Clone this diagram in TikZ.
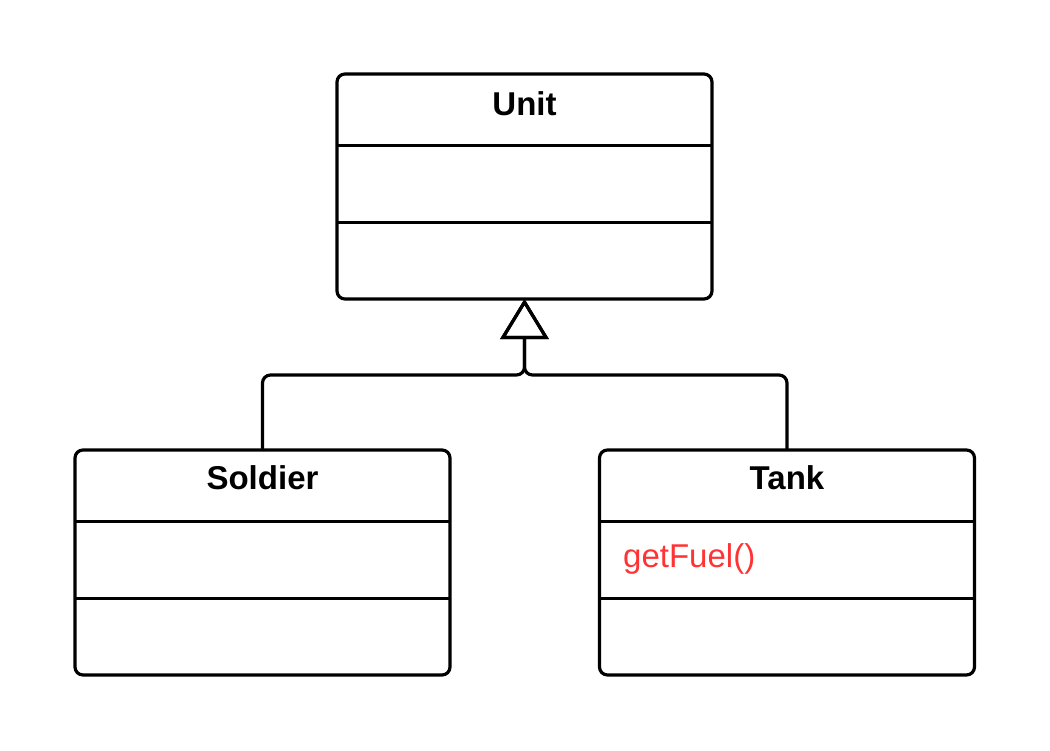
\documentclass[tikz,border=0pt]{standalone}
\usepackage{fontspec}
\setmainfont{Liberation Sans}
\usetikzlibrary{arrows.meta}
\definecolor{opred}{HTML}{FF3333}
\begin{document}
\begin{tikzpicture}[x=1pt,y=-1pt,
  classbox/.style={draw, line width=3.2pt, rounded corners=8pt, minimum width=375pt, minimum height=225pt, inner sep=0pt, outer sep=0pt},
  divider/.style={line width=3.2pt},
  title/.style={font=\fontsize{33}{40}\selectfont\bfseries, anchor=base, inner sep=0pt},
  op/.style={font=\fontsize{33}{40}\selectfont, text=opred, anchor=base west, inner sep=0pt},
  gen/.style={line width=3.2pt, rounded corners=8pt, -{Triangle[open, length=40pt, width=48pt]}}
]
\useasboundingbox (0,0) rectangle (1050,750);
\node[classbox] (unit) at (524.5,186.5) {};
\node[classbox] (soldier) at (262.5,562.5) {};
\node[classbox] (tank) at (787,562.5) {};
% dividers
\foreach \b in {unit,soldier,tank}{
  \draw[divider] ([yshift=-71.5pt]\b.north west) -- ([yshift=-71.5pt]\b.north east);
  \draw[divider] ([yshift=-148.5pt]\b.north west) -- ([yshift=-148.5pt]\b.north east);
}
% titles
\node[title] (unitT) at ([yshift=-41pt]unit.north) {Unit};
\node[title] (soldierT) at ([yshift=-39pt]soldier.north) {Soldier};
\node[title] (tankT) at ([yshift=-39pt]tank.north) {Tank};
% operation
\node[op] (fuel) at (623,567) {getFuel()};
% generalisation
\coordinate (hub) at (524.5,375);
\draw[gen] (soldier.north) |- (hub) -- (unit.south);
\draw[gen] (tank.north) |- (hub) -- (unit.south);
\end{tikzpicture}
\end{document}
